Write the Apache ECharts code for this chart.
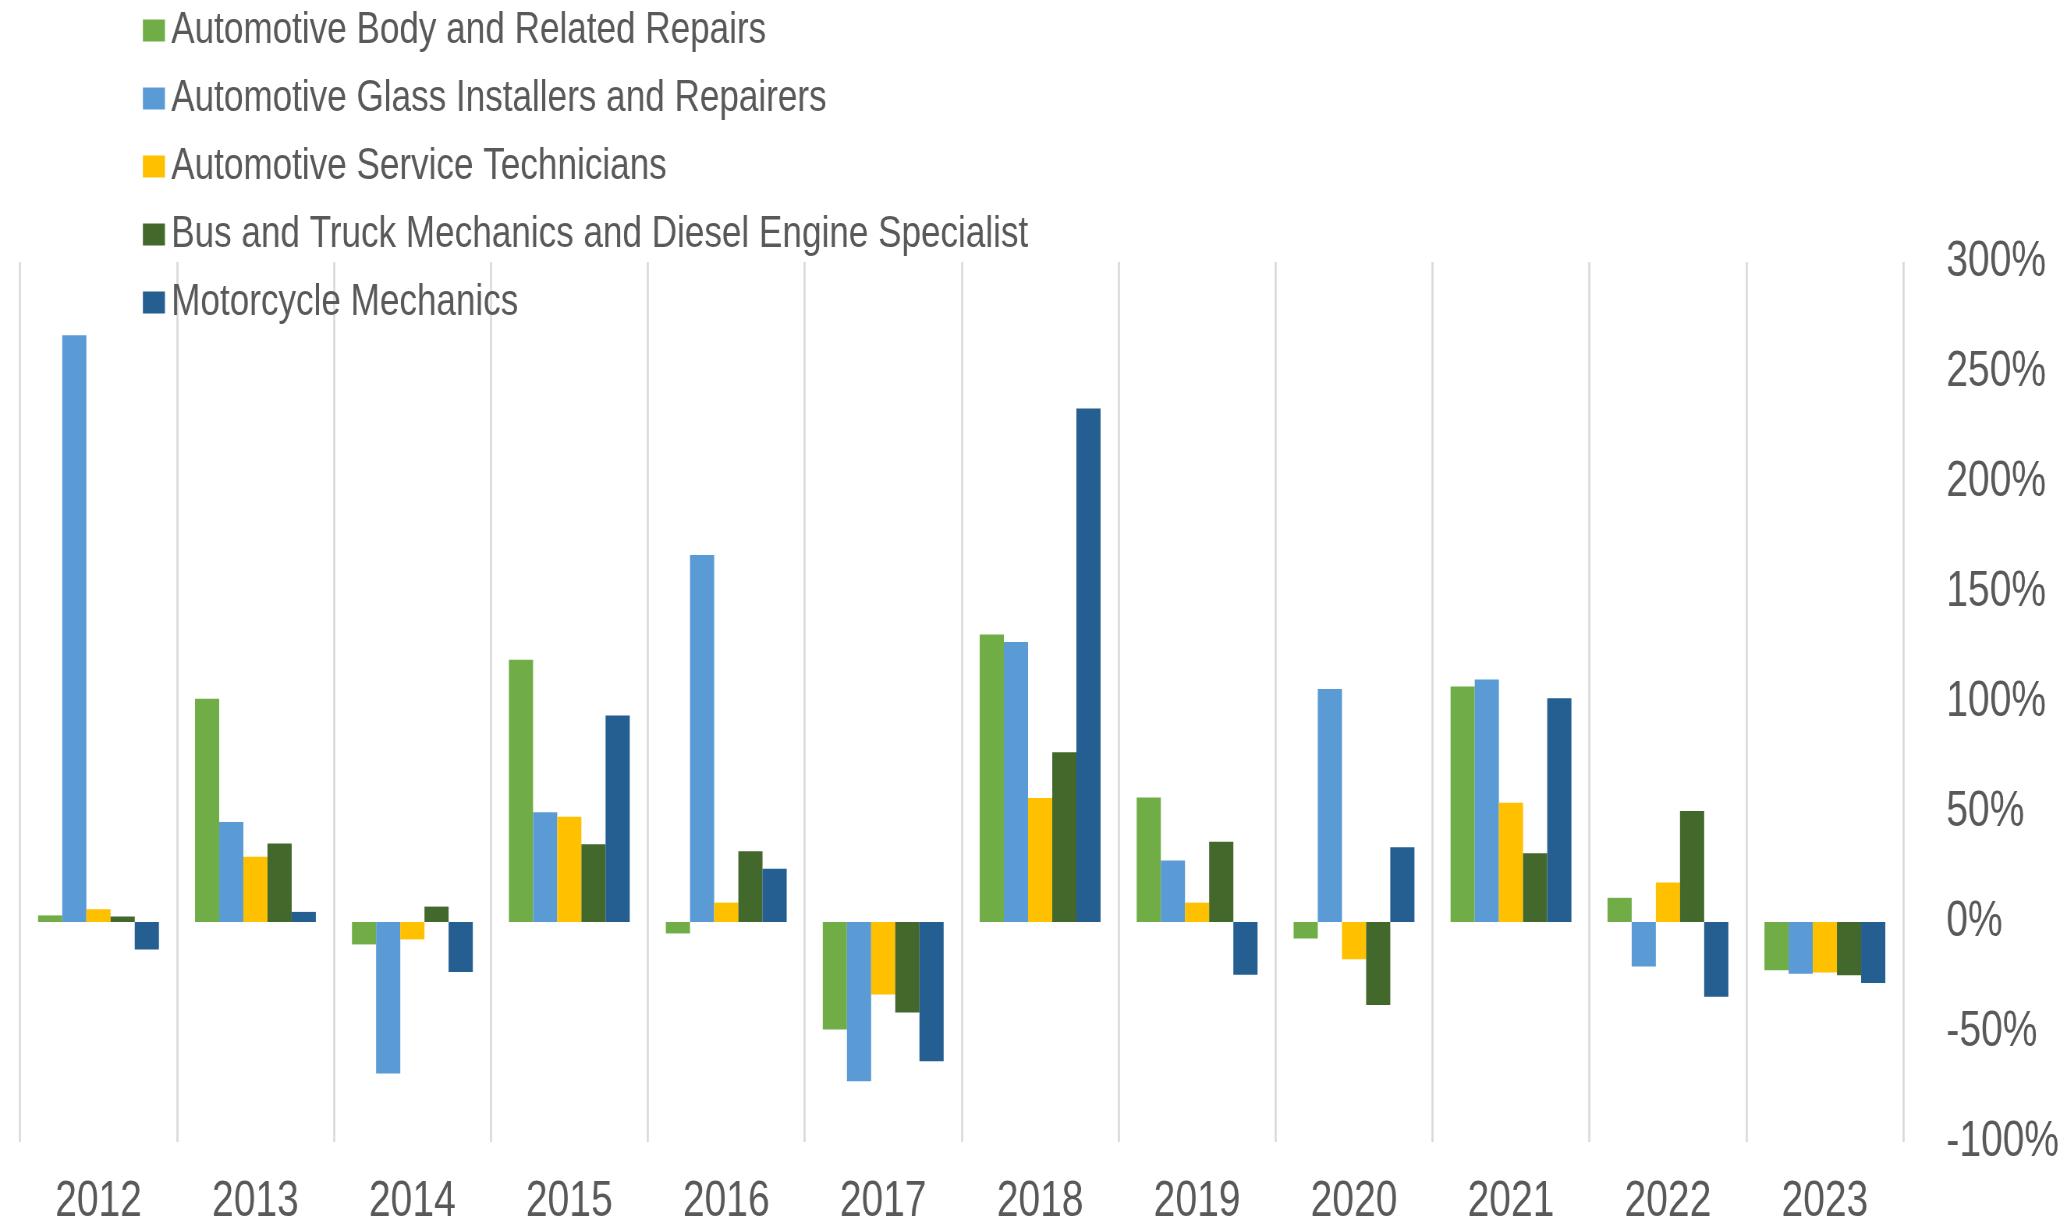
<!DOCTYPE html>
<html>
<head>
<meta charset="utf-8">
<script src="https://cdn.jsdelivr.net/npm/echarts@6/dist/echarts.min.js"></script>
<style>
html,body{margin:0;padding:0;background:#fff;overflow:hidden;width:2062px;height:1224px;}
#chart{width:2644px;height:1224px;transform:scaleX(0.78);transform-origin:0 0;}
</style>
</head>
<body>
<div id="chart"></div>
<script>
const years = ['2012','2013','2014','2015','2016','2017','2018','2019','2020','2021','2022','2023'];
const seriesNames = [
  'Automotive Body and Related Repairs',
  'Automotive Glass Installers and Repairers',
  'Automotive Service Technicians',
  'Bus and Truck Mechanics and Diesel Engine Specialist',
  'Motorcycle Mechanics'
];
const bodyRepairs = [3, 101.5, -10.2, 119.2, -5.2, -48.9, 130.7, 56.6, -7.5, 107, 11, -21.9];
const glassInstallers = [266.7, 45.5, -68.9, 49.9, 166.8, -72.4, 127.3, 28, 105.9, 110.2, -20.2, -23.5];
const serviceTechs = [5.8, 29.7, -7.9, 47.8, 8.8, -33, 56.4, 8.8, -16.9, 54.2, 17.9, -22.9];
const busTruck = [2.5, 35.7, 7, 35.3, 32.2, -41.1, 77.2, 36.5, -37.7, 31.3, 50.4, -24.2];
const motorcycle = [-12.5, 4.6, -22.7, 93.9, 24.2, -63.3, 233.4, -24, 34, 101.7, -34, -27.7];
const yTicks = {min: -100, max: 300, interval: 50};

const colors = ['#70AD47', '#5B9BD5', '#FFC000', '#43682B', '#255E91'];
const allData = [bodyRepairs, glassInstallers, serviceTechs, busTruck, motorcycle];
const font = "'Liberation Sans', Arial, sans-serif";
const sx = 0.78; // horizontal condensing of the whole drawing

const chart = echarts.init(document.getElementById('chart'), null, {renderer: 'canvas', devicePixelRatio: 1});
chart.setOption({
  animation: false,
  backgroundColor: '#ffffff',
  color: colors,
  legend: {
    orient: 'vertical',
    left: 139 / sx,
    top: 3,
    itemWidth: 22 / sx,
    itemHeight: 22,
    itemGap: 23,
    icon: 'rect',
    textStyle: {fontFamily: font, fontSize: 45, color: '#595959', lineHeight: 45, padding: [0, 0, 0, 3]},
    data: seriesNames
  },
  grid: {left: 20 / sx, right: 159 / sx, top: 262, bottom: 82, containLabel: false, outerBoundsMode: 'none'},
  xAxis: {
    type: 'category',
    data: years,
    position: 'bottom',
    axisLine: {show: false},
    axisTick: {show: false},
    axisLabel: {fontFamily: font, fontSize: 50, color: '#595959', margin: 35},
    splitLine: {show: true, lineStyle: {color: '#D9D9D9', width: 2 / sx}}
  },
  yAxis: {
    type: 'value',
    position: 'right',
    min: yTicks.min,
    max: yTicks.max,
    interval: yTicks.interval,
    axisLine: {show: false},
    axisTick: {show: false},
    splitLine: {show: false},
    axisLabel: {fontFamily: font, fontSize: 50, color: '#595959', margin: 43 / sx, formatter: '{value}%'}
  },
  series: seriesNames.map((name, i) => ({
    name: name,
    type: 'bar',
    data: allData[i],
    barGap: '0%',
    barCategoryGap: '23%',
    itemStyle: {color: colors[i]}
  }))
});
</script>
</body>
</html>
